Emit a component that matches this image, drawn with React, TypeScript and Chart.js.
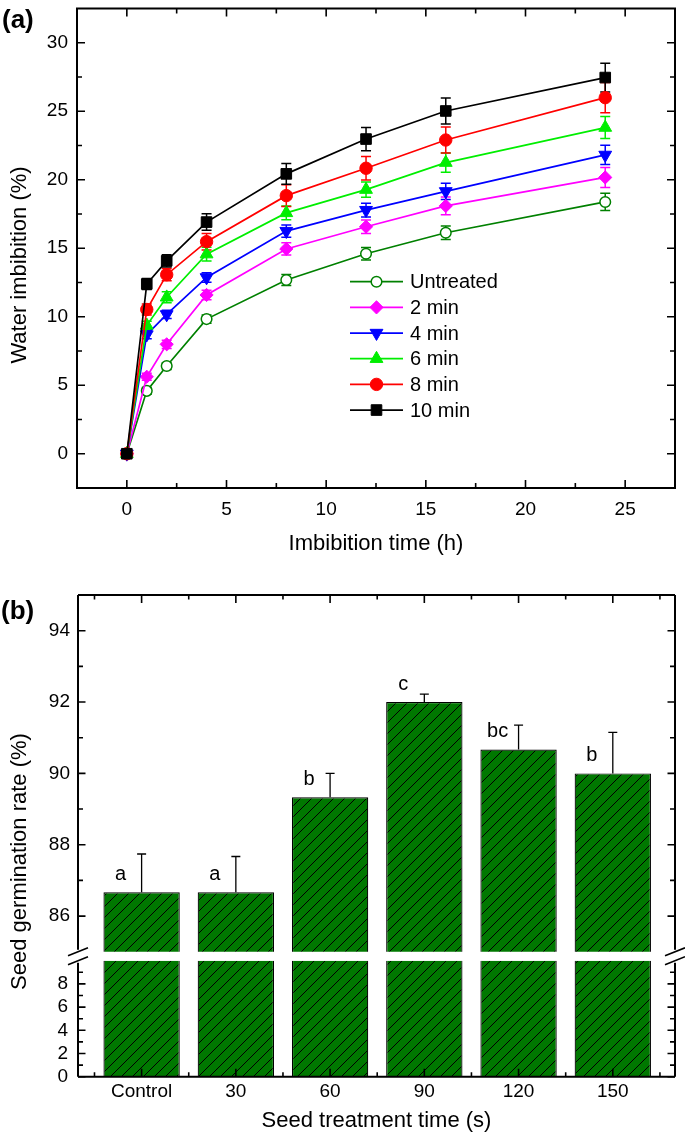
import React, { useEffect, useRef } from 'react';
import { Chart, registerables } from 'chart.js';

Chart.register(...registerables);

const FONT = '"Liberation Sans", Arial, Helvetica, sans-serif';
Chart.defaults.font.family = FONT;
Chart.defaults.color = '#000';

// ---------------- Panel (a) data ----------------
const imbibitionTimes = [0, 1, 2, 4, 8, 12, 16, 24];
const seriesNames = ['Untreated', '2 min', '4 min', '6 min', '8 min', '10 min'];
const untreated = [0, 4.59, 6.4, 9.83, 12.68, 14.6, 16.13, 18.38];
const min2 = [0, 5.62, 7.99, 11.59, 14.95, 16.57, 18.09, 20.17];
const min4 = [0, 8.7, 10.17, 12.87, 16.25, 17.78, 19.15, 21.81];
const min6 = [0, 9.37, 11.42, 14.57, 17.58, 19.28, 21.25, 23.81];
const min8 = [0, 10.53, 13.07, 15.48, 18.84, 20.84, 22.9, 25.99];
const min10 = [0, 12.39, 14.08, 16.91, 20.43, 22.97, 25.02, 27.46];
const untreatedErr = [0, 0.25, 0.25, 0.3, 0.4, 0.45, 0.5, 0.63];
const min2Err = [0, 0.25, 0.3, 0.35, 0.45, 0.5, 0.65, 0.73];
const min4Err = [0, 0.3, 0.3, 0.35, 0.45, 0.5, 0.6, 0.7];
const min6Err = [0, 0.3, 0.4, 0.5, 0.5, 0.55, 0.7, 0.8];
const min8Err = [0, 0.4, 0.45, 0.6, 0.8, 0.85, 0.95, 1.1];
const min10Err = [0, 0.4, 0.45, 0.6, 0.75, 0.85, 0.95, 1.05];
const timeTicks = [0, 5, 10, 15, 20, 25];
const imbibitionTicks = [0, 5, 10, 15, 20, 25, 30];

// ---------------- Panel (b) data ----------------
const treatmentLabels = ['Control', '30', '60', '90', '120', '150'];
const germinationRate = [86.67, 86.67, 89.33, 92.0, 90.67, 90.0];
const germinationErr = [1.07, 1.0, 0.67, 0.22, 0.68, 1.15];
const significance = ['a', 'a', 'b', 'c', 'bc', 'b'];
const upperRateTicks = [86, 88, 90, 92, 94];
const lowerRateTicks = [0, 2, 4, 6, 8];
const axisBreakValue = 85;

// ---------------- styles ----------------
const seriesValues = [untreated, min2, min4, min6, min8, min10];
const seriesErrors = [untreatedErr, min2Err, min4Err, min6Err, min8Err, min10Err];
type Mk = { color: string; pointStyle: string; rotation: number; radius: number; open?: boolean };
const seriesStyle: Mk[] = [
  { color: '#008000', pointStyle: 'circle', rotation: 0, radius: 5.3, open: true },
  { color: '#FF00FF', pointStyle: 'rectRot', rotation: 0, radius: 6.6 },
  { color: '#0000FF', pointStyle: 'triangle', rotation: 180, radius: 7.4 },
  { color: '#00EE00', pointStyle: 'triangle', rotation: 0, radius: 7.4 },
  { color: '#FF0000', pointStyle: 'circle', rotation: 0, radius: 6.2 },
  { color: '#000000', pointStyle: 'rect', rotation: 0, radius: 7.5 },
];
const BAR_GREEN = '#007800';

function drawMarker(ctx: CanvasRenderingContext2D, st: Mk, x: number, y: number) {
  const r = st.radius;
  ctx.beginPath();
  if (st.pointStyle === 'circle') {
    ctx.arc(x, y, r, 0, Math.PI * 2);
  } else if (st.pointStyle === 'rect') {
    const s = Math.SQRT1_2 * r;
    ctx.rect(x - s, y - s, 2 * s, 2 * s);
  } else if (st.pointStyle === 'rectRot') {
    ctx.moveTo(x - r, y);
    ctx.lineTo(x, y - r);
    ctx.lineTo(x + r, y);
    ctx.lineTo(x, y + r);
    ctx.closePath();
  } else {
    let a = (st.rotation * Math.PI) / 180;
    ctx.moveTo(x + Math.sin(a) * r, y - Math.cos(a) * r);
    a += (2 * Math.PI) / 3;
    ctx.lineTo(x + Math.sin(a) * r, y - Math.cos(a) * r);
    a += (2 * Math.PI) / 3;
    ctx.lineTo(x + Math.sin(a) * r, y - Math.cos(a) * r);
    ctx.closePath();
  }
  ctx.fillStyle = st.open ? '#fff' : st.color;
  ctx.fill();
  ctx.lineWidth = st.open ? 1.5 : 1;
  ctx.strokeStyle = st.color;
  ctx.stroke();
}

function minorsOf(majors: number[], step: number, lo: number, hi: number) {
  const out: number[] = [];
  const all = [majors[0] - step, ...majors];
  all.forEach((v) => {
    const m = v + step / 2;
    if (m > lo + 1e-6 && m < hi - 1e-6) out.push(m);
  });
  return out;
}

function hTicks(ctx: CanvasRenderingContext2D, scale: any, top: number, bottom: number, values: number[], len: number) {
  values.forEach((v) => {
    const p = scale.getPixelForValue(v);
    ctx.moveTo(p, bottom);
    ctx.lineTo(p, bottom - len);
    ctx.moveTo(p, top);
    ctx.lineTo(p, top + len);
  });
}
function vTicks(ctx: CanvasRenderingContext2D, scale: any, left: number, right: number, values: number[], len: number) {
  values.forEach((v) => {
    const p = scale.getPixelForValue(v);
    ctx.moveTo(left, p);
    ctx.lineTo(left + len, p);
    ctx.moveTo(right, p);
    ctx.lineTo(right - len, p);
  });
}

function rotatedTitle(ctx: CanvasRenderingContext2D, text: string, x: number, y: number) {
  ctx.save();
  ctx.translate(x, y);
  ctx.rotate(-Math.PI / 2);
  ctx.font = `22px ${FONT}`;
  ctx.fillStyle = '#000';
  ctx.textAlign = 'center';
  ctx.textBaseline = 'middle';
  ctx.fillText(text, 0, 0);
  ctx.restore();
}

const panelAPlugin = {
  id: 'panelA',
  beforeDatasetsDraw(chart: any) {
    const ctx: CanvasRenderingContext2D = chart.ctx;
    const xs = chart.scales.x;
    const ys = chart.scales.y;
    ctx.save();
    ctx.lineWidth = 1.5;
    seriesValues.forEach((vals, i) => {
      ctx.strokeStyle = seriesStyle[i].color;
      ctx.beginPath();
      vals.forEach((v, j) => {
        const e = seriesErrors[i][j];
        if (!e) return;
        const px = xs.getPixelForValue(imbibitionTimes[j]);
        const y1 = ys.getPixelForValue(v + e);
        const y2 = ys.getPixelForValue(v - e);
        ctx.moveTo(px, y1);
        ctx.lineTo(px, y2);
        ctx.moveTo(px - 5, y1);
        ctx.lineTo(px + 5, y1);
        ctx.moveTo(px - 5, y2);
        ctx.lineTo(px + 5, y2);
      });
      ctx.stroke();
    });
    ctx.restore();
  },
  afterDraw(chart: any) {
    const ctx: CanvasRenderingContext2D = chart.ctx;
    const { left, right, top, bottom } = chart.chartArea;
    const xs = chart.scales.x;
    const ys = chart.scales.y;
    ctx.save();
    ctx.strokeStyle = '#000';
    ctx.lineWidth = 1.6;
    ctx.beginPath();
    hTicks(ctx, xs, top, bottom, timeTicks, 8);
    hTicks(ctx, xs, top, bottom, minorsOf(timeTicks, 5, xs.min, xs.max), 5);
    vTicks(ctx, ys, left, right, imbibitionTicks, 8);
    vTicks(ctx, ys, left, right, minorsOf(imbibitionTicks, 5, ys.min, ys.max), 5);
    ctx.stroke();
    ctx.lineWidth = 2;
    ctx.strokeRect(left, top, right - left, bottom - top);

    // legend
    const lx0 = 350, lx1 = 403, ly0 = 281.7, dy = 25.67;
    ctx.font = `20px ${FONT}`;
    ctx.textAlign = 'left';
    ctx.textBaseline = 'middle';
    seriesNames.forEach((name, i) => {
      const y = ly0 + i * dy;
      const st = seriesStyle[i];
      ctx.beginPath();
      ctx.strokeStyle = st.color;
      ctx.lineWidth = 1.7;
      ctx.moveTo(lx0, y);
      ctx.lineTo(lx1, y);
      ctx.stroke();
      drawMarker(ctx, st, (lx0 + lx1) / 2, y);
      ctx.fillStyle = '#000';
      ctx.fillText(name, 410, y + 1);
    });

    rotatedTitle(ctx, 'Water imbibition (%)', 20, 265);
    ctx.font = `bold 26px ${FONT}`;
    ctx.fillStyle = '#000';
    ctx.textAlign = 'left';
    ctx.textBaseline = 'middle';
    ctx.fillText('(a)', 2, 20.5);
    ctx.restore();
  },
};

const panelBPlugin = {
  id: 'panelB',
  beforeDatasetDraw(chart: any, args: any) {
    const ctx: CanvasRenderingContext2D = chart.ctx;
    const { left, right, top, bottom } = chart.chartArea;
    const id = args.meta.yAxisID;
    ctx.save();
    ctx.beginPath();
    if (id === 'yTop') {
      const yb = chart.scales.yTop.getPixelForValue(axisBreakValue);
      ctx.rect(left, top - 2, right - left, yb - top + 2);
    } else {
      const yt = chart.scales.yBot.top;
      ctx.rect(left, yt, right - left, bottom - yt + 2);
    }
    ctx.clip();
  },
  afterDatasetDraw(chart: any) {
    chart.ctx.restore();
  },
  afterDatasetsDraw(chart: any) {
    const ctx: CanvasRenderingContext2D = chart.ctx;
    const xs = chart.scales.x;
    const ys = chart.scales.yTop;
    ctx.save();
    ctx.strokeStyle = '#000';
    ctx.lineWidth = 1.3;
    ctx.beginPath();
    germinationRate.forEach((v, i) => {
      const px = xs.getPixelForValue(i);
      const y0 = ys.getPixelForValue(v);
      const y1 = ys.getPixelForValue(v + germinationErr[i]);
      ctx.moveTo(px, y0);
      ctx.lineTo(px, y1);
      ctx.moveTo(px - 4.5, y1);
      ctx.lineTo(px + 4.5, y1);
    });
    ctx.stroke();
    ctx.font = `20px ${FONT}`;
    ctx.fillStyle = '#000';
    ctx.textAlign = 'center';
    ctx.textBaseline = 'alphabetic';
    significance.forEach((s, i) => {
      const px = xs.getPixelForValue(i);
      const y0 = ys.getPixelForValue(germinationRate[i]);
      ctx.fillText(s, px - 21, y0 - 12.5);
    });
    ctx.restore();
  },
  afterDraw(chart: any) {
    const ctx: CanvasRenderingContext2D = chart.ctx;
    const { left, right, top, bottom } = chart.chartArea;
    const xs = chart.scales.x;
    const yT = chart.scales.yTop;
    const yB = chart.scales.yBot;
    const yBreakTop = yT.getPixelForValue(axisBreakValue);
    const yBreakBot = yB.top;
    ctx.save();
    ctx.strokeStyle = '#000';
    ctx.lineWidth = 1.6;
    ctx.beginPath();
    const xMaj = treatmentLabels.map((_, i) => i);
    hTicks(ctx, xs, top, bottom, xMaj, 8);
    hTicks(ctx, xs, top, bottom, minorsOf(xMaj, 1, xs.min, xs.max), 4.5);
    vTicks(ctx, yT, left, right, upperRateTicks, 7.5);
    vTicks(ctx, yT, left, right, minorsOf(upperRateTicks, 2, axisBreakValue, yT.max), 5);
    vTicks(ctx, yB, left, right, lowerRateTicks, 7.5);
    vTicks(ctx, yB, left, right, minorsOf(lowerRateTicks, 2, yB.min, yB.max), 5);
    ctx.stroke();

    ctx.lineWidth = 2;
    ctx.beginPath();
    ctx.moveTo(left, top);
    ctx.lineTo(right, top);
    ctx.moveTo(left, bottom);
    ctx.lineTo(right, bottom);
    [left, right].forEach((x) => {
      ctx.moveTo(x, top);
      ctx.lineTo(x, yBreakTop - 2);
      ctx.moveTo(x, yBreakBot + 2);
      ctx.lineTo(x, bottom);
    });
    ctx.stroke();
    ctx.lineWidth = 1.6;
    ctx.beginPath();
    [left, right].forEach((x) => {
      [yBreakTop, yBreakBot].forEach((y) => {
        ctx.moveTo(x - 10, y + 4);
        ctx.lineTo(x + 10, y - 4);
      });
    });
    ctx.stroke();

    rotatedTitle(ctx, 'Seed germination rate (%)', 20, 301.5);
    ctx.font = `bold 26px ${FONT}`;
    ctx.fillStyle = '#000';
    ctx.textAlign = 'left';
    ctx.textBaseline = 'middle';
    ctx.fillText('(b)', 1, 51.7);
    ctx.restore();
  },
};

function makeHatch(): CanvasPattern | string {
  const n = 11;
  const c = document.createElement('canvas');
  c.width = n;
  c.height = n;
  const g = c.getContext('2d');
  if (!g) return BAR_GREEN;
  g.fillStyle = BAR_GREEN;
  g.fillRect(0, 0, n, n);
  g.strokeStyle = '#000';
  g.lineWidth = 1;
  g.beginPath();
  g.moveTo(-1, n + 1);
  g.lineTo(n + 1, -1);
  g.moveTo(-1, 1);
  g.lineTo(1, -1);
  g.moveTo(n - 1, n + 1);
  g.lineTo(n + 1, n - 1);
  g.stroke();
  return g.createPattern(c, 'repeat') || BAR_GREEN;
}

const tickFont = { family: FONT, size: 19 };
const titleFont = { family: FONT, size: 22 };
const noGrid = { display: false, drawTicks: false, tickLength: 0 };

function topConfig(): any {
  return {
    type: 'line',
    data: {
      datasets: seriesValues.map((vals, i) => {
        const st = seriesStyle[i];
        return {
          label: seriesNames[i],
          data: imbibitionTimes.map((t, j) => ({ x: t, y: vals[j] })),
          borderColor: st.color,
          backgroundColor: st.open ? '#fff' : st.color,
          pointBackgroundColor: st.open ? '#fff' : st.color,
          pointBorderColor: st.color,
          pointBorderWidth: st.open ? 1.5 : 1,
          pointStyle: st.pointStyle,
          pointRotation: st.rotation,
          pointRadius: st.radius,
          borderWidth: 1.7,
          tension: 0,
          fill: false,
          order: seriesValues.length - i,
        };
      }),
    },
    options: {
      responsive: false,
      animation: false,
      devicePixelRatio: 1,
      events: [],
      layout: { padding: { top: 5, right: 10, bottom: 0, left: 0 } },
      plugins: { legend: { display: false }, tooltip: { enabled: false }, title: { display: false } },
      scales: {
        x: {
          type: 'linear',
          min: -2.5,
          max: 27.5,
          afterBuildTicks: (s: any) => {
            s.ticks = timeTicks.map((v) => ({ value: v }));
          },
          ticks: { font: tickFont, color: '#000', padding: 10.6, maxRotation: 0, autoSkip: false },
          grid: noGrid,
          border: { display: false },
          title: { display: true, text: 'Imbibition time (h)', color: '#000', font: titleFont, padding: { top: 0, bottom: 3 } },
          afterFit: (s: any) => {
            s.height = 72;
            s.paddingLeft = 0;
            s.paddingRight = 0;
          },
        },
        y: {
          type: 'linear',
          min: -2.5,
          max: 32.5,
          afterBuildTicks: (s: any) => {
            s.ticks = imbibitionTicks.map((v) => ({ value: v }));
          },
          ticks: { font: tickFont, color: '#000', padding: 9, autoSkip: false },
          grid: noGrid,
          border: { display: false },
          afterFit: (s: any) => {
            s.width = 77;
            s.paddingTop = 0;
            s.paddingBottom = 0;
          },
        },
      },
    },
    plugins: [panelAPlugin],
  };
}

function bottomConfig(): any {
  const hatch = makeHatch();
  const barPoints = germinationRate.map((v, i) => ({ x: i, y: v }));
  const barStyle = {
    backgroundColor: hatch,
    borderColor: '#000',
    borderWidth: 1.2,
    grouped: false,
    barPercentage: 0.81,
    categoryPercentage: 1,
  };
  return {
    type: 'bar',
    data: {
      datasets: [
        { label: 'upper', data: barPoints, yAxisID: 'yTop', ...barStyle },
        { label: 'lower', data: barPoints, yAxisID: 'yBot', ...barStyle },
      ],
    },
    options: {
      responsive: false,
      animation: false,
      devicePixelRatio: 1,
      events: [],
      layout: { padding: { top: 35, right: 10, bottom: 0, left: 0 } },
      plugins: { legend: { display: false }, tooltip: { enabled: false }, title: { display: false } },
      scales: {
        x: {
          type: 'linear',
          offset: false,
          min: -0.675,
          max: 5.66,
          afterBuildTicks: (s: any) => {
            s.ticks = treatmentLabels.map((_, i) => ({ value: i }));
          },
          ticks: {
            font: tickFont,
            color: '#000',
            padding: 3.5,
            maxRotation: 0,
            autoSkip: false,
            callback: (v: any) => treatmentLabels[Math.round(Number(v))] ?? '',
          },
          grid: { ...noGrid, offset: false },
          border: { display: false },
          title: { display: true, text: 'Seed treatment time (s)', color: '#000', font: titleFont, padding: { top: 0, bottom: 2 } },
          afterFit: (s: any) => {
            s.height = 59.3;
            s.paddingLeft = 0;
            s.paddingRight = 0;
          },
        },
        yBot: {
          type: 'linear',
          position: 'left',
          stack: 'germination',
          stackWeight: 116,
          min: 0,
          max: 10,
          afterBuildTicks: (s: any) => {
            s.ticks = lowerRateTicks.map((v) => ({ value: v }));
          },
          ticks: { font: tickFont, color: '#000', padding: 10, autoSkip: false },
          grid: noGrid,
          border: { display: false },
          afterFit: (s: any) => {
            s.width = 78;
            s.paddingTop = 0;
            s.paddingBottom = 0;
          },
        },
        yTop: {
          type: 'linear',
          position: 'left',
          stack: 'germination',
          stackWeight: 365.7,
          min: 84.75,
          max: 95,
          afterBuildTicks: (s: any) => {
            s.ticks = upperRateTicks.map((v) => ({ value: v }));
          },
          ticks: { font: tickFont, color: '#000', padding: 8, autoSkip: false },
          grid: noGrid,
          border: { display: false },
          afterFit: (s: any) => {
            s.width = 78;
            s.paddingTop = 0;
            s.paddingBottom = 0;
          },
        },
      },
    },
    plugins: [panelBPlugin],
  };
}

export default function App() {
  const topRef = useRef<HTMLCanvasElement>(null);
  const botRef = useRef<HTMLCanvasElement>(null);
  useEffect(() => {
    if (!topRef.current || !botRef.current) return;
    const a = new Chart(topRef.current, topConfig());
    const b = new Chart(botRef.current, bottomConfig());
    return () => {
      a.destroy();
      b.destroy();
    };
  }, []);
  return (
    <div style={{ position: 'absolute', left: 0, top: 0, width: 685, height: 1136, background: '#fff' }}>
      <canvas
        ref={topRef}
        width={685}
        height={560}
        style={{ position: 'absolute', left: 0, top: 0, width: 685, height: 560, display: 'block' }}
      />
      <canvas
        ref={botRef}
        width={685}
        height={576}
        style={{ position: 'absolute', left: 0, top: 560, width: 685, height: 576, display: 'block' }}
      />
    </div>
  );
}
